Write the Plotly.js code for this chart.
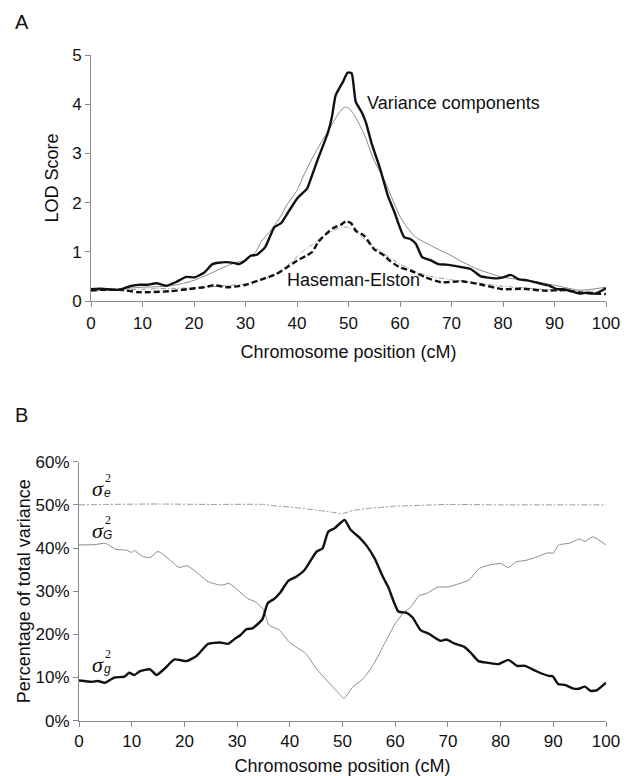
<!DOCTYPE html>
<html>
<head>
<meta charset="utf-8">
<script src="https://cdn.plot.ly/plotly-3.0.1.min.js"></script>
<style>html,body{margin:0;padding:0;background:#fff;}#chart{width:629px;height:776px;}</style>
</head>
<body>
<div id="chart"></div>
<script>
// ---------- Panel A data (LOD scores) ----------
const vcObsX = [0,2,4,5.6,7,8,9.5,11,12.7,14.6,16.6,18.5,20.1,22,23.6,26,27.9,28.7,29.9,31,32.2,33.8,35.6,36.9,38.5,40,42,42.4,44,46,46.8,47.5,49,49.8,50.6,51.4,52.6,53.4,54.5,56.1,57.7,58.8,60.8,62,63.1,64.3,65.9,67.4,69,71.4,73.7,75.7,76.8,78.8,80,81.5,83.1,84.7,87,89,90.5,91.7,93.3,94.8,96.4,98,100];
const vcObsLod = [0.24,0.25,0.23,0.23,0.28,0.31,0.33,0.33,0.36,0.31,0.39,0.49,0.48,0.58,0.75,0.79,0.77,0.75,0.82,0.92,0.94,1.09,1.50,1.58,1.84,2.08,2.29,2.40,2.87,3.42,3.75,4.18,4.47,4.64,4.63,4.05,3.83,3.62,3.20,2.70,2.12,1.84,1.30,1.26,1.16,0.89,0.83,0.75,0.74,0.70,0.65,0.50,0.48,0.46,0.48,0.53,0.44,0.42,0.36,0.31,0.24,0.24,0.20,0.15,0.17,0.15,0.26];

const vcExpX = [0,5,10,15,18,20,23,25,28,30,32,33,35,37,38,40,41.6,44,46,48,49.2,50,51,53,55,57,59,60,61,63,65,68,70,72,75,80,85,90,95,100];
const vcExpLod = [0.22,0.24,0.28,0.30,0.36,0.42,0.55,0.65,0.78,0.83,1.00,1.20,1.45,1.75,1.95,2.25,2.62,3.10,3.45,3.80,3.94,3.92,3.80,3.40,2.85,2.45,1.95,1.72,1.55,1.30,1.18,1.02,0.92,0.80,0.65,0.48,0.42,0.32,0.22,0.28];

const heObsX = [0,5.7,9,11.6,15.5,18.7,22,23.9,26.5,29.7,32.3,34.3,36,38,40,42,43,44,45,47,48.5,49.5,50.5,51.5,53,55,57,58,60,62,65,68,72,75,80,84,88,92,95,98,100];
const heObsLod = [0.22,0.23,0.18,0.18,0.20,0.24,0.28,0.32,0.28,0.32,0.41,0.48,0.55,0.68,0.82,0.93,1.00,1.18,1.30,1.48,1.55,1.62,1.58,1.42,1.33,1.05,0.92,0.82,0.68,0.62,0.48,0.38,0.40,0.35,0.24,0.25,0.21,0.22,0.17,0.15,0.14];

const heExpX = [0,10,20,25,30,33,35,37,39,41,43,45,47,49,50,52,54,56,58,60,63,66,70,75,80,85,90,95,100];
const heExpLod = [0.20,0.24,0.27,0.30,0.35,0.42,0.50,0.62,0.80,1.00,1.15,1.32,1.43,1.50,1.50,1.35,1.18,1.03,0.88,0.75,0.60,0.50,0.43,0.37,0.30,0.26,0.22,0.20,0.20];

// ---------- Panel B data (% of total variance) ----------
const sgX = [0,2.5,3.6,4.9,6.7,8.6,9.5,10.5,11.6,13.5,14.7,16.2,18.1,20.4,22.3,24.5,26.8,28.3,29.5,30.6,31.8,32.9,34.8,35.8,37.1,38.2,39.7,41.3,42.8,45.1,46.2,47.3,48.5,50.4,51.5,53.4,54.6,56.1,57.6,58.7,60.6,62.2,63.3,64.8,66.3,68.6,69.7,71.2,73.1,74.3,75.8,77.7,79.6,81.5,83.1,84.6,86.9,89.1,89.9,90.9,92.2,93.7,94.8,96,97.1,98.3,100];
const sgPct = [9.3,9.0,9.2,8.8,10.0,10.2,11.1,10.6,11.5,11.9,10.6,12.0,14.2,13.8,15.0,17.8,18.1,17.8,18.9,19.8,21.2,21.4,23.5,27.2,28.3,29.7,32.4,33.4,34.9,39.2,39.9,43.8,44.6,46.5,44.3,42.2,40.5,37.6,33.5,30.9,25.3,25.0,23.9,21.0,20.2,18.5,18.8,17.9,17.1,15.8,13.8,13.4,13.1,14.1,12.7,12.7,11.4,10.4,10.3,8.5,8.3,7.5,7.4,7.9,6.9,7.1,8.8];

const sGX = [0,3,5,7,9,10,10.5,12,13.5,15,17,19,20.5,22,24.5,27,28.5,30,32,33.5,35,36,38,40,43,45,47,49,50.3,52,54,56,58,60,61.5,63,64.5,66,68,70,72,74,76,78,80,81.5,83,85,87,89,90,91,93,95,96,97.5,100];
const sGPct = [40.7,40.8,41.1,39.7,39.5,39.0,39.4,38.1,37.8,39.2,37.5,35.5,35.9,34.7,32.2,31.4,31.8,30.4,28.3,27.5,25.8,22.2,21.0,18.1,15.6,12.1,9.4,6.7,5.2,7.9,9.8,13.3,17.9,22.5,24.9,26.4,28.9,29.5,30.9,31.0,31.7,32.6,35.3,36.1,36.4,35.5,36.8,37.2,38.0,38.9,38.8,40.7,41.1,42.1,41.5,42.6,40.7];

const seX = [0,5,15,25,35,37,40,45,48,50,52,55,58,60,65,70,80,90,100];
const sePct = [50.0,50.1,50.2,50.1,50.1,49.8,49.5,48.8,48.3,48.0,48.7,49.2,49.5,49.7,49.9,50.1,50.0,50.0,50.0];

const xTicks = [0,10,20,30,40,50,60,70,80,90,100];
const lodTicks = [0,1,2,3,4,5];
const pctTicks = [0,10,20,30,40,50,60];
const pctLabels = ['0%','10%','20%','30%','40%','50%','60%'];

// ---------- layout helpers ----------
const W = 629, H = 776;
const px = v => v / W;
const py = v => 1 - v / H;
const FONT = 'Liberation Sans, Arial, Helvetica, sans-serif';
const SERIF = 'Liberation Serif, Times New Roman, serif';

const axisBase = {
  showline: true, linecolor: '#8a8a8a', linewidth: 1,
  ticks: 'outside', ticklen: 5, tickcolor: '#8a8a8a', tickwidth: 1,
  showgrid: false, zeroline: false,
  tickfont: {family: FONT, size: 17, color: '#111'},
  fixedrange: true
};

const traces = [
  {x: heExpX, y: heExpLod, xaxis: 'x', yaxis: 'y', mode: 'lines',
   line: {color: '#9a9a9a', width: 1, dash: '5px,2px,1px,2px', shape: 'spline', smoothing: 0.6}},
  {x: vcExpX, y: vcExpLod, xaxis: 'x', yaxis: 'y', mode: 'lines',
   line: {color: '#8a8a8a', width: 1, shape: 'spline', smoothing: 0.6}},
  {x: heObsX, y: heObsLod, xaxis: 'x', yaxis: 'y', mode: 'lines',
   line: {color: '#111', width: 2.4, dash: '6px,3px', shape: 'spline', smoothing: 0.5}},
  {x: vcObsX, y: vcObsLod, xaxis: 'x', yaxis: 'y', mode: 'lines',
   line: {color: '#111', width: 2.4, shape: 'spline', smoothing: 0.5}},

  {x: seX, y: sePct, xaxis: 'x2', yaxis: 'y2', mode: 'lines',
   line: {color: '#9a9a9a', width: 1, dash: '6px,2px,2px,2px', shape: 'spline', smoothing: 0.6}},
  {x: sGX, y: sGPct, xaxis: 'x2', yaxis: 'y2', mode: 'lines',
   line: {color: '#8a8a8a', width: 1, shape: 'spline', smoothing: 0.5}},
  {x: sgX, y: sgPct, xaxis: 'x2', yaxis: 'y2', mode: 'lines',
   line: {color: '#111', width: 2.4, shape: 'spline', smoothing: 0.5}}
];

const ann = (x, y, text, size, opts) => Object.assign({
  xref: 'paper', yref: 'paper', x: px(x), y: py(y), text: text, showarrow: false,
  xanchor: 'center', yanchor: 'middle', font: {family: FONT, size: size, color: '#111'}
}, opts || {});

const sigma = (cx, cy, sub) => [
  ann(cx, cy, '<i>σ</i>', 22, {font: {family: SERIF, size: 22, color: '#111'}}),
  ann(cx + 10, cy - 10, '2', 12, {font: {family: SERIF, size: 12, color: '#111'}}),
  ann(cx + 9, cy + 5, '<i>' + sub + '</i>', 12, {font: {family: FONT, size: 12, color: '#111'}})
];

const layout = {
  width: W, height: H,
  margin: {l: 0, r: 0, t: 0, b: 0},
  paper_bgcolor: '#fff', plot_bgcolor: '#fff',
  showlegend: false,
  font: {family: FONT, color: '#111'},
  xaxis: Object.assign({}, axisBase, {
    domain: [px(91), px(606)], anchor: 'y', range: [0, 100], tickvals: xTicks,
    ticklabelstandoff: 2,
    title: {text: 'Chromosome position (cM)', font: {family: FONT, size: 18, color: '#111'}, standoff: 12}
  }),
  yaxis: Object.assign({}, axisBase, {
    domain: [py(301), py(55)], anchor: 'x', range: [0, 5], tickvals: lodTicks,
    title: {text: 'LOD Score', font: {family: FONT, size: 18, color: '#111'}, standoff: 8}
  }),
  xaxis2: Object.assign({}, axisBase, {
    domain: [px(79), px(606)], anchor: 'y2', range: [0, 100], tickvals: xTicks,
    title: {text: 'Chromosome position (cM)', font: {family: FONT, size: 18, color: '#111'}, standoff: 10}
  }),
  yaxis2: Object.assign({}, axisBase, {
    domain: [py(720.7), py(461.7)], anchor: 'x2', range: [0, 60], tickvals: pctTicks, ticktext: pctLabels,
    title: {text: 'Percentage of total variance', font: {family: FONT, size: 18, color: '#111'}, standoff: 0}
  }),
  annotations: [
    ann(22, 22, 'A', 20),
    ann(21, 415, 'B', 20),
    ann(365, 103, 'Variance components', 18, {xanchor: 'left'}),
    ann(285, 280, 'Haseman-Elston', 18, {xanchor: 'left'})
  ].concat(sigma(98, 488, 'e'), sigma(98, 530, 'G'), sigma(98, 664, 'g'))
};

Plotly.newPlot('chart', traces, layout, {staticPlot: true, displayModeBar: false});
</script>
</body>
</html>
